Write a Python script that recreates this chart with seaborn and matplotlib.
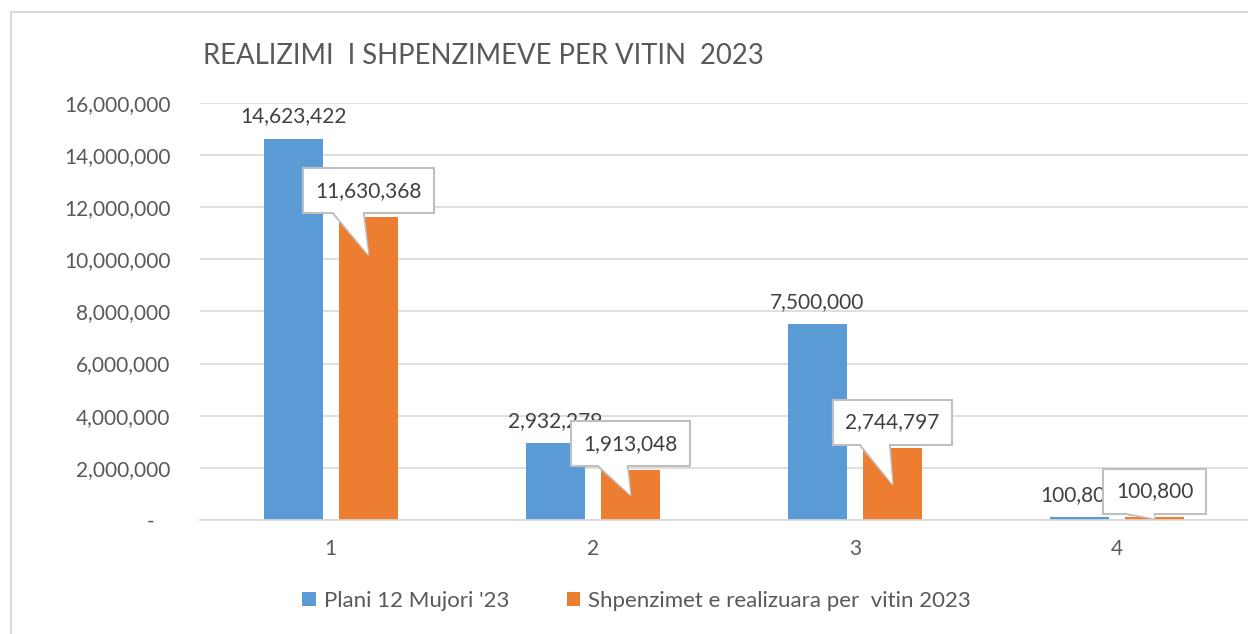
import numpy as np
import pandas as pd
import seaborn as sns
import matplotlib.pyplot as plt
from matplotlib.patches import Rectangle
from matplotlib.ticker import FuncFormatter

# values
categories = ["1", "2", "3", "4"]
plan_values = [14623422, 2932279, 7500000, 100800]
real_values = [11630368, 1913048, 2744797, 100800]
series_names = ["Plani 12 Mujori '23", "Shpenzimet e realizuara per  vitin 2023"]
series_colors = ["#5B9BD5", "#ED7D31"]
y_ticks = [0, 2000000, 4000000, 6000000, 8000000, 10000000, 12000000, 14000000, 16000000]
title = "REALIZIMI  I SHPENZIMEVE PER VITIN  2023"

df = pd.DataFrame({
    "kategoria": categories * 2,
    "vlera": plan_values + real_values,
    "seria": [series_names[0]] * len(categories) + [series_names[1]] * len(categories),
})

sns.set_theme(style="white")
plt.rcParams["font.family"] = ["Lato", "DejaVu Sans"]

fig = plt.figure(figsize=(12.48, 6.34), dpi=100)
ax = fig.add_axes([0.160, 0.180, 0.840, 0.6577])

sns.barplot(data=df, x="kategoria", y="vlera", hue="seria",
            palette=dict(zip(series_names, series_colors)), saturation=1,
            width=0.573, gap=0.21, errorbar=None, linewidth=0, legend=False, ax=ax)

ax.set_ylim(0, 16000000)
ax.set_xlim(-0.5, 3.5)
ax.set_yticks(y_ticks)
ax.yaxis.set_major_formatter(FuncFormatter(lambda v, p: "-   " if v == 0 else f"{v:,.0f}"))
ax.yaxis.grid(True, color="#d9d9d9", lw=1.2)
ax.set_axisbelow(True)
for s in ["top", "right", "left"]:
    ax.spines[s].set_visible(False)
ax.spines["bottom"].set_color("#d9d9d9")
ax.spines["bottom"].set_linewidth(1.2)
ax.tick_params(axis="y", length=0, pad=21, labelsize=15, labelcolor="#595959")
ax.tick_params(axis="x", length=0, pad=14, labelsize=15, labelcolor="#595959")
ax.set_xlabel("")
ax.set_ylabel("")

# plain labels over the plan bars
ax.bar_label(ax.containers[0], labels=[f"{v:,.0f}" for v in plan_values],
             padding=9, fontsize=15, color="#404040")

# callout labels for the realized bars
for bar, v in zip(ax.containers[1], real_values):
    x = bar.get_x() + bar.get_width() / 2
    top = bar.get_height()
    tip = max(top - 1450000, top / 2)
    label = f"{v:,.0f}"
    # box + outlined pointer (text hidden here, drawn by the layer above)
    ax.annotate(label, xy=(x, tip), xytext=(x, top + 1000000),
                ha="center", va="center", fontsize=15, color="none", zorder=6,
                bbox=dict(boxstyle="square,pad=0.6", fc="white", ec="#bfbfbf", lw=1.5),
                arrowprops=dict(arrowstyle="wedge,tail_width=2.6", mutation_scale=10,
                                fc="white", ec="#bfbfbf", lw=1.5, relpos=(0.28, 0.0),
                                patchA=None, shrinkA=0, shrinkB=0))
    # white wedge hides the box border across the pointer base, then the text
    ax.annotate(label, xy=(x, tip), xytext=(x, top + 1000000),
                ha="center", va="center", fontsize=15, color="#404040", zorder=7,
                arrowprops=dict(arrowstyle="wedge,tail_width=2.4", mutation_scale=10,
                                fc="white", ec="none", lw=0, relpos=(0.28, 0.0),
                                patchA=None, shrinkA=0, shrinkB=0))

fig.text(203 / 1248, 1 - 56 / 634, title, fontsize=19.8,
         color="#595959", ha="left", va="center")

fig.legend(handles=ax.containers, labels=series_names, loc="center",
           bbox_to_anchor=(0.51, 1 - 601 / 634), ncol=2, frameon=False, fontsize=16,
           handlelength=0.6, handleheight=0.6, handletextpad=0.35, columnspacing=2.6,
           labelcolor="#595959")

# chart area border
fig.add_artist(Rectangle((11 / 1248, -0.1), 1.2, 1 - 12 / 634 + 0.1, transform=fig.transFigure,
                         fill=False, ec="#d9d9d9", lw=1.5))

fig.savefig("out.png", dpi=100)
